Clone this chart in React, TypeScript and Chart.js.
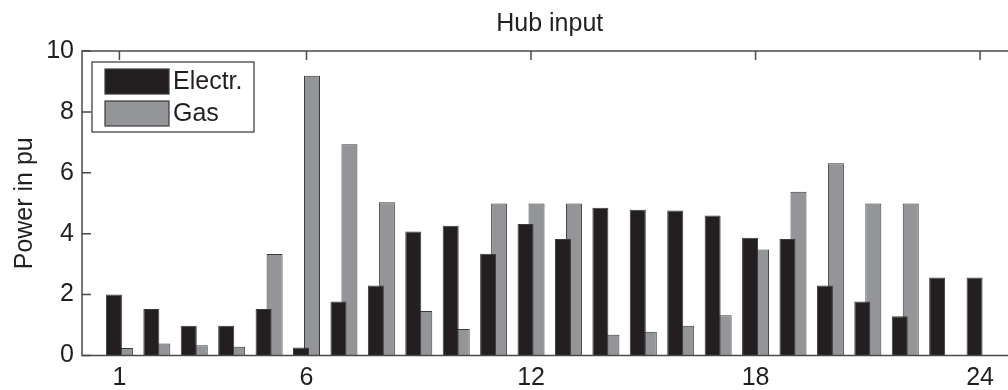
import React, { useEffect, useRef } from "react";
import { Chart, registerables } from "chart.js";

Chart.register(...registerables);

const hours = [1, 2, 3, 4, 5, 6, 7, 8, 9, 10, 11, 12, 13, 14, 15, 16, 17, 18, 19, 20, 21, 22, 23, 24];
const electr = [2.0, 1.53, 0.98, 0.98, 1.53, 0.26, 1.77, 2.3, 4.07, 4.26, 3.34, 4.32, 3.83, 4.85, 4.79, 4.76, 4.6, 3.87, 3.83, 2.3, 1.77, 1.29, 2.56, 2.56];
const gas = [0.25, 0.39, 0.34, 0.29, 3.33, 9.19, 6.94, 5.03, 1.46, 0.87, 4.99, 4.99, 4.99, 0.68, 0.78, 0.98, 1.32, 3.48, 5.38, 6.31, 4.99, 4.99, 0, 0];
const xTicks = [1, 6, 12, 18, 24];
const yTicks = [0, 2, 4, 6, 8, 10];
const seriesLabels = ["Electr.", "Gas"];
const titleText = "Hub input";
const yTitleText = "Power in pu";

const FONT = "'Liberation Sans', Arial, Helvetica, sans-serif";
const TEXT = "#231f20";
const AXIS = "#4a4a4a";
const FILLS = ["#231f20", "#939598"];
const EDGE = "#3a3a3a";

const ticksPlugin = {
  id: "inwardTicks",
  beforeDatasetsDraw(chart: any) {
    const { ctx, chartArea: a, scales } = chart;
    const x = scales.x;
    const y = scales.y;
    const L = 9;
    ctx.save();
    ctx.strokeStyle = AXIS;
    ctx.lineWidth = 1.5;
    ctx.beginPath();
    xTicks.forEach((v) => {
      const px = x.getPixelForValue(v);
      ctx.moveTo(px, a.top);
      ctx.lineTo(px, a.top + L);
      ctx.moveTo(px, a.bottom);
      ctx.lineTo(px, a.bottom - L);
    });
    yTicks.forEach((v) => {
      const py = y.getPixelForValue(v);
      ctx.moveTo(a.left, py);
      ctx.lineTo(a.left + L, py);
      ctx.moveTo(a.right, py);
      ctx.lineTo(a.right - L, py);
    });
    ctx.stroke();
    ctx.restore();
  },
  afterDatasetsDraw(chart: any) {
    const { ctx, chartArea: a } = chart;
    ctx.save();
    ctx.strokeStyle = AXIS;
    ctx.lineWidth = 1.5;
    ctx.strokeRect(a.left, a.top, a.right - a.left, a.bottom - a.top);

    // title centred over the plot area
    ctx.font = `25px ${FONT}`;
    ctx.fillStyle = TEXT;
    ctx.textAlign = "center";
    ctx.textBaseline = "middle";
    ctx.fillText(titleText, (a.left + a.right) / 2, 24);

    // legend box
    const lx = a.left + 10;
    const ly = a.top + 11;
    const lw = 162;
    const lh = 70;
    ctx.fillStyle = "#ffffff";
    ctx.fillRect(lx, ly, lw, lh);
    ctx.lineWidth = 1.2;
    ctx.strokeStyle = "#333333";
    ctx.strokeRect(lx, ly, lw, lh);
    ctx.textAlign = "left";
    chart.data.datasets.forEach((ds: any, i: number) => {
      const sy = ly + 7 + i * 32;
      ctx.fillStyle = ds.backgroundColor;
      ctx.fillRect(lx + 13, sy, 64, 25);
      ctx.strokeStyle = EDGE;
      ctx.lineWidth = 1.2;
      ctx.strokeRect(lx + 13, sy, 64, 25);
      ctx.fillStyle = TEXT;
      ctx.fillText(ds.label, lx + 81, sy + 13.5);
    });
    ctx.restore();
  },
};

export default function App() {
  const ref = useRef<HTMLCanvasElement | null>(null);
  useEffect(() => {
    if (!ref.current) return;
    const chart = new Chart(ref.current, {
      type: "bar",
      data: {
        datasets: [
          {
            label: seriesLabels[0],
            data: hours.map((h, i) => ({ x: h, y: electr[i] })),
            backgroundColor: FILLS[0],
            borderColor: EDGE,
            borderWidth: 1,
            categoryPercentage: 0.588,
            barPercentage: 1.455,
          },
          {
            label: seriesLabels[1],
            data: hours.map((h, i) => ({ x: h, y: gas[i] })),
            backgroundColor: FILLS[1],
            borderColor: EDGE,
            borderWidth: 1,
            categoryPercentage: 0.588,
            barPercentage: 1.455,
          },
        ],
      },
      options: {
        animation: false,
        responsive: false,
        devicePixelRatio: 1,
        layout: { padding: { left: 0, right: 82.5, top: 51, bottom: 0 } },
        plugins: {
          legend: { display: false },
          tooltip: { enabled: false },
          title: { display: false },
        },
        scales: {
          x: {
            type: "linear",
            min: 0,
            max: 25,
            offset: false,
            grid: { display: false, drawTicks: false },
            border: { display: false },
            afterBuildTicks: (s: any) => {
              s.ticks = xTicks.map((v) => ({ value: v }));
            },
            afterFit: (s: any) => {
              s.height = 34.5;
            },
            ticks: {
              autoSkip: false,
              maxRotation: 0,
              padding: 8,
              color: TEXT,
              font: { family: FONT, size: 25 },
            },
          },
          y: {
            min: 0,
            max: 10,
            grid: { display: false, drawTicks: false },
            border: { display: false },
            afterBuildTicks: (s: any) => {
              s.ticks = yTicks.map((v) => ({ value: v }));
            },
            afterFit: (s: any) => {
              s.width = 82;
            },
            ticks: {
              padding: 8,
              color: TEXT,
              font: { family: FONT, size: 25 },
            },
            title: {
              display: true,
              text: yTitleText,
              color: TEXT,
              font: { family: FONT, size: 25 },
              padding: { top: 10, bottom: 0 },
            },
          },
        },
      },
      plugins: [ticksPlugin],
    } as any);
    return () => chart.destroy();
  }, []);

  return (
    <div
      style={{
        position: "absolute",
        left: 0,
        top: 0,
        width: 1008,
        height: 390,
        overflow: "hidden",
        background: "#ffffff",
      }}
    >
      <canvas ref={ref} width={1100} height={390} style={{ display: "block" }} />
    </div>
  );
}
